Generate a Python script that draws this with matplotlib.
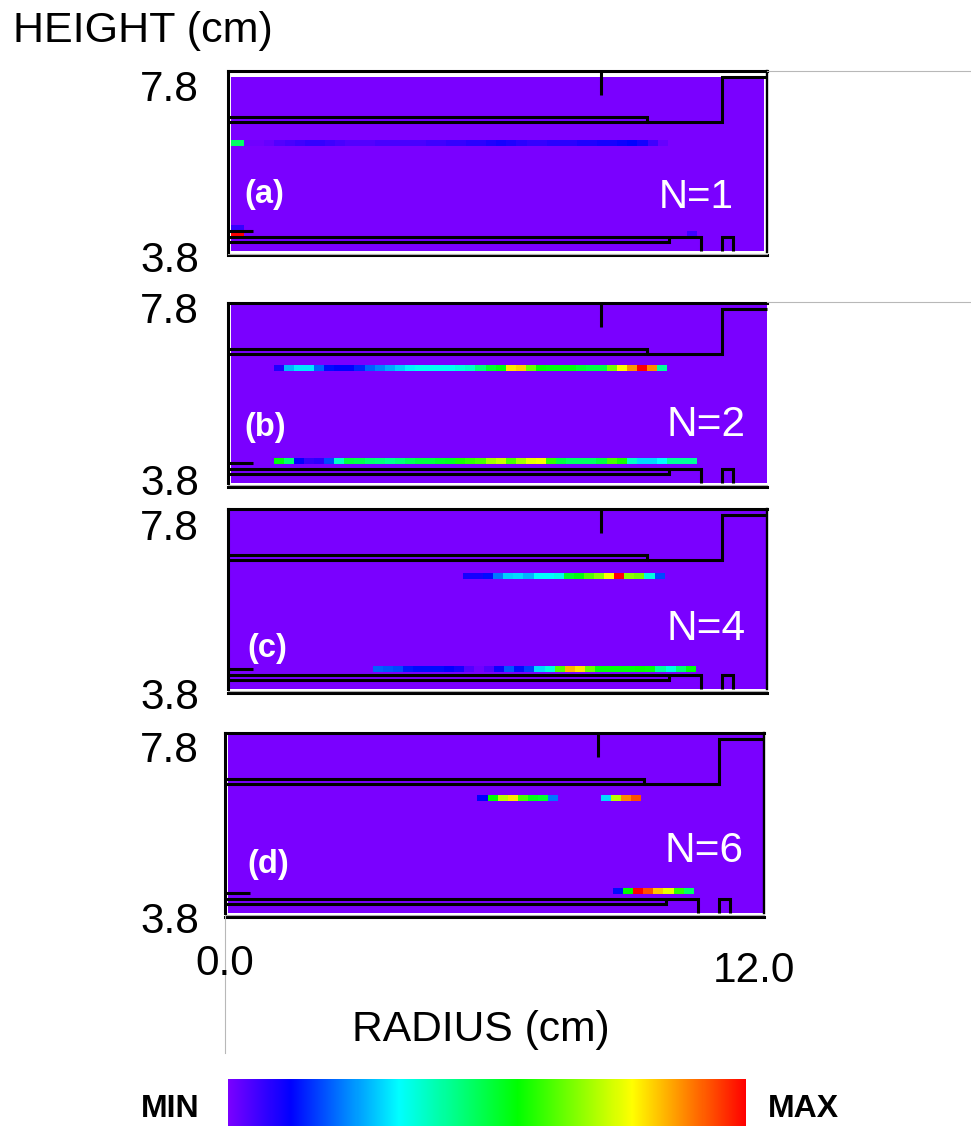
import numpy as np
import matplotlib
matplotlib.use("Agg")
import matplotlib.pyplot as plt
from matplotlib.colors import LinearSegmentedColormap, Normalize
from matplotlib.cm import ScalarMappable
from matplotlib.lines import Line2D

plt.rcParams['font.family'] = ['Liberation Sans', 'DejaVu Sans']

W, H = 971, 1127
CELL_CM = 0.2245
ROW_CM = 0.125

# colour scale
scale_pos = [0.0, 0.12, 0.33, 0.56, 0.78, 1.0]
scale_col = ['#7a00ff', '#0000ff', '#00ffff', '#00ff00', '#ffff00', '#ff0000']

# each streak: (height cm, radius start cm, cell values)
a_rows = [
    (6.25, 0.07, [0.47, 0.47]),
    (6.25, 0.36, [.01, .01, .02, .04, .05, .06, .07, .07, .06, .05, .04, .04, .04, .05, .05, .05, .05, .05, .06, .06, .07,
                  .07, .08, .08, .09, .10, .09, .08, .07, .07, .08, .08, .08, .09, .09, .10, .10, .11, .12, .10, .06, .02]),
    (4.40, 0.07, [0.07]),
    (4.40, 0.13, [0.07]),
    (4.27, 0.07, [1.0]),
    (4.27, 0.13, [1.0]),
    (4.28, 10.22, [0.06]),
]
b_rows = [
    (6.38, 1.02, [.09, .27, .31, .31, .20, .13, .12, .12, .15, .20, .23, .26, .29, .32, .34, .34, .34, .34, .36, .38,
                  .45, .52, .55, .80, .82, .65, .56, .55, .55, .55, .52, .50, .50, .66, .78, .87, 1.0, .88, .42]),
    (4.37, 1.02, [.55, .46, .12, .07, .08, .18, .38, .50, .49, .46, .45, .43, .45, .48, .50, .50, .52, .53, .58, .60, .62,
                  .70, .73, .62, .70, .76, .77, .60, .50, .47, .47, .47, .50, .62, .58, .38, .30, .30, .33, .42, .42, .42]),
]
c_rows = [
    (6.34, 5.23, [.10, .10, .13, .22, .29, .30, .27, .33, .33, .35, .52, .55, .63, .68, .78, 1.0, .68, .66, .36, .18]),
    (4.32, 3.23, [.20, .19, .18, .14, .13, .13, .13, .12, .10, .04, .01, .04, .11, .19, .13, .17, .30, .36, .63, .84, .80,
                  .65, .55, .55, .55, .55, .56, .55, .42, .36, .46, .55]),
]
d_rows = [
    (6.38, 5.62, [.12, .56, .72, .80, .62, .54, .52, .22]),
    (6.38, 8.37, [.30, .72, .88, .93]),
    (4.37, 8.64, [.13, .56, 1.0, .93, .83, .76, .60, .47]),
]

# reactor outline polylines (radius cm, height cm)
outline_upper_r = [0.0, 9.33, 9.33, 0.0]
outline_upper_h = [6.81, 6.81, 6.70, 6.70]
outline_step_r = [9.33, 11.0, 11.0, 12.0]
outline_step_h = [6.70, 6.70, 7.68, 7.68]
probe_r = [8.30, 8.30]
probe_h = [7.80, 7.28]
shelf_r = [0.0, 0.56]
shelf_h = [4.33, 4.33]
lower_r = [0.0, 10.53, 10.53]
lower_h = [4.20, 4.20, 3.89]
lower_in_r = [0.0, 9.82, 9.82]
lower_in_h = [4.09, 4.09, 4.20]
box_r = [11.0, 11.0, 11.24, 11.24]
box_h = [3.89, 4.20, 4.20, 3.89]

panels = [
    dict(left=228, top=71.5, rows=a_rows, label='(a)', lab=(244, 203), n='N=1', nxy=(659, 208), nsize=29,
         y78=101, y38=272, bg=(0.07, 11.93, 3.89, 7.68), right=True),
    dict(left=228, top=303, rows=b_rows, label='(b)', lab=(244, 436), n='N=2', nxy=(667, 436), nsize=30.5,
         y78=323, y38=495, bg=(0.07, 12.0, 3.89, 7.76), right=False),
    dict(left=228, top=509, rows=c_rows, label='(c)', lab=(247, 657), n='N=4', nxy=(667, 640), nsize=30.5,
         y78=540, y38=709, bg=(0.04, 12.0, 3.89, 7.76), right=True),
    dict(left=225, top=733, rows=d_rows, label='(d)', lab=(247, 873), n='N=6', nxy=(664, 862), nsize=30.5,
         y78=762, y38=933, bg=(0.07, 12.0, 3.89, 7.76), right=True),
]

cmap = LinearSegmentedColormap.from_list('field', list(zip(scale_pos, scale_col)), N=512)
norm = Normalize(0, 1)
fig = plt.figure(figsize=(W / 100, H / 100), dpi=100, facecolor='white')


def fx(x):
    return x / W


def fy(y):
    return 1 - y / H


LW = 2.2
for p in panels:
    ax = fig.add_axes([fx(p['left']), fy(p['top'] + 184), 539 / W, 184 / H])
    ax.set_xlim(0, 12)
    ax.set_ylim(3.8, 7.8)
    ax.axis('off')
    r0, r1, h0, h1 = p['bg']
    ax.pcolormesh([r0, r1], [h0, h1], [[0.0]], cmap=cmap, norm=norm, zorder=1)
    for h, r, vals in p['rows']:
        edges = r + CELL_CM * np.arange(len(vals) + 1)
        ax.pcolormesh(edges, [h - ROW_CM / 2, h + ROW_CM / 2], [vals], cmap=cmap, norm=norm, zorder=2)
    for rr, hh in [(outline_upper_r, outline_upper_h), (outline_step_r, outline_step_h), (probe_r, probe_h),
                   (shelf_r, shelf_h), (lower_r, lower_h), (lower_in_r, lower_in_h), (box_r, box_h)]:
        ax.plot(rr, hh, color='black', lw=LW, solid_joinstyle='miter', solid_capstyle='butt', clip_on=False, zorder=3)
    # frame
    ax.plot([0, 12], [7.8, 7.8], color='black', lw=LW, clip_on=False, zorder=3)
    ax.plot([0, 12], [3.8, 3.8], color='black', lw=LW, clip_on=False, zorder=3)
    ax.plot([0, 12], [3.84, 3.84], color='#b0b0b0', lw=0.8, clip_on=False, zorder=3)
    ax.plot([0, 0], [3.88, 7.8], color='black', lw=LW, clip_on=False, zorder=3)
    if p['right']:
        ax.plot([12, 12], [3.88, 7.8], color='black', lw=1.7, clip_on=False, zorder=3)
    fig.text(fx(p['lab'][0]), fy(p['lab'][1]), p['label'], color='white', fontsize=23.5, fontweight='bold',
             ha='left', va='baseline', zorder=5)
    fig.text(fx(p['nxy'][0]), fy(p['nxy'][1]), p['n'], color='white', fontsize=p['nsize'],
             ha='left', va='baseline', zorder=5)
    fig.text(fx(199), fy(p['y78']), '7.8', fontsize=30.5, ha='right', va='baseline')
    fig.text(fx(199), fy(p['y38']), '3.8', fontsize=30.5, ha='right', va='baseline')

# thin grey rules
for xs, ys in [((767, 971), (71, 71)), ((767, 971), (302, 302)), ((225, 225), (916, 1053))]:
    fig.add_artist(Line2D([fx(xs[0]), fx(xs[1])], [fy(ys[0]), fy(ys[1])], color='#b8b8b8', lw=0.8,
                          transform=fig.transFigure))

fig.text(fx(13), fy(42), 'HEIGHT (cm)', fontsize=31, ha='left', va='baseline')
fig.text(fx(195), fy(975), '0.0', fontsize=30.5, ha='left', va='baseline')
fig.text(fx(713), fy(982), '12.0', fontsize=30.5, ha='left', va='baseline')
fig.text(fx(352), fy(1041), 'RADIUS (cm)', fontsize=30.7, ha='left', va='baseline')
fig.text(fx(141), fy(1117), 'MIN', fontsize=23, fontweight='bold', ha='left', va='baseline')
fig.text(fx(768), fy(1117), 'MAX', fontsize=23, fontweight='bold', ha='left', va='baseline')

cax = fig.add_axes([fx(228), fy(1126), 518 / W, 47 / H])
cb = fig.colorbar(ScalarMappable(norm=norm, cmap=cmap), cax=cax, orientation='horizontal')
cb.set_ticks([])
cb.outline.set_visible(False)

fig.savefig('out.png', dpi=100, facecolor='white')
